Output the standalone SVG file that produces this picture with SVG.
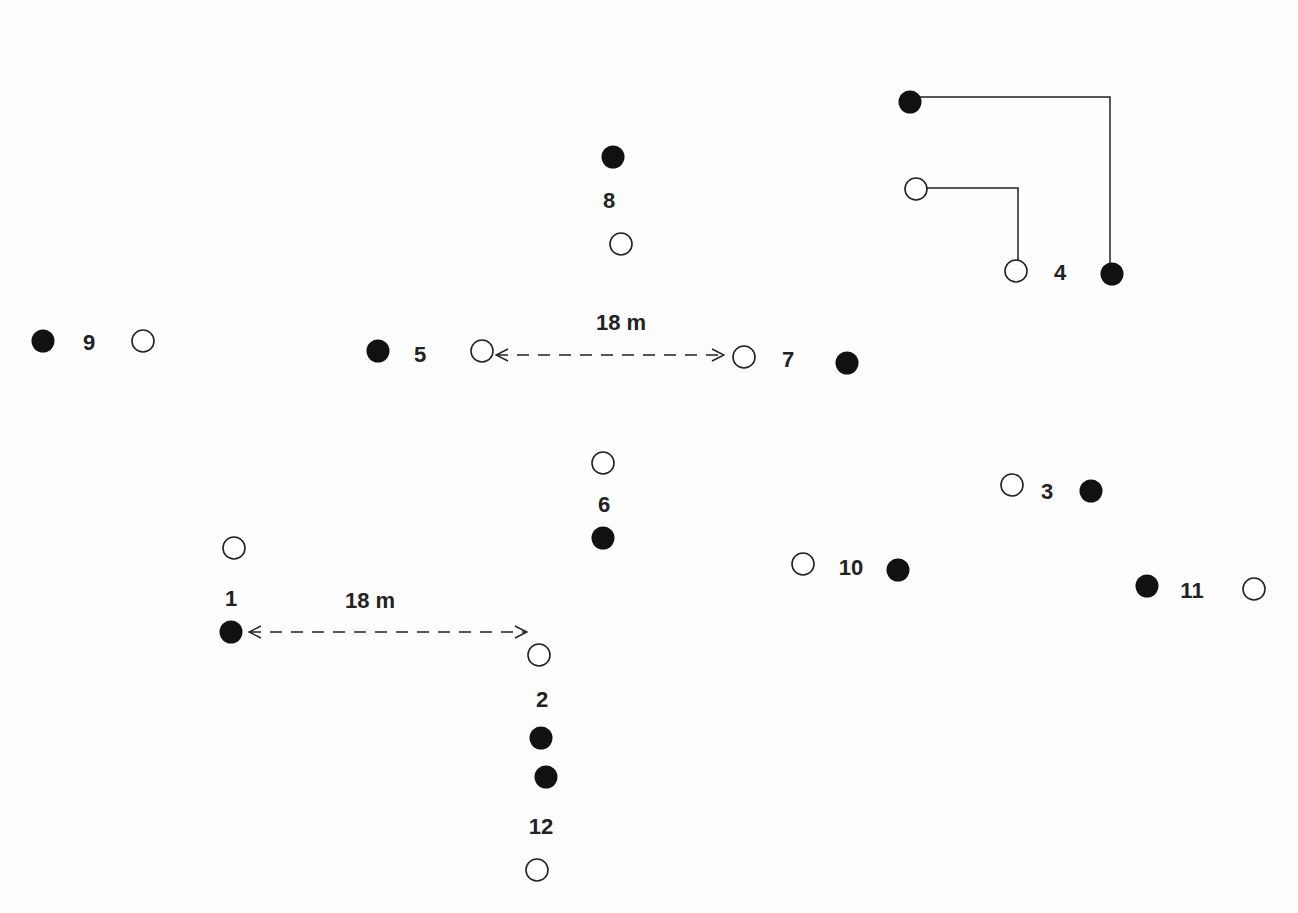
<svg xmlns="http://www.w3.org/2000/svg" width="1298" height="913" viewBox="0 0 1298 913">
<style>
.f{fill:#111;}
.o{fill:#fff;stroke:#222;stroke-width:1.6;}
.t{font-family:"Liberation Sans",Arial,sans-serif;font-weight:bold;font-size:22px;fill:#222;text-anchor:middle;}
.c{fill:none;stroke:#222;stroke-width:1.5;}
.d{fill:none;stroke:#222;stroke-width:1.5;stroke-dasharray:12,9;}
</style>
<defs>
<marker id="ah" viewBox="0 0 14 14" refX="13" refY="7" markerWidth="14" markerHeight="14" markerUnits="userSpaceOnUse" orient="auto-start-reverse">
<path d="M1,1 L13,7 L1,13" fill="none" stroke="#222" stroke-width="1.5"/>
</marker>
</defs>
<rect width="1298" height="913" fill="#fdfdfd"/>
<g id="connectors">
<polyline class="c" points="910,97 1110,97 1110,268"/>
<polyline class="c" points="927,188 1018,188 1018,260"/>
<line class="d" x1="496" y1="355" x2="724" y2="355" marker-start="url(#ah)" marker-end="url(#ah)"/>
<line class="d" x1="249" y1="632" x2="527" y2="632" marker-start="url(#ah)" marker-end="url(#ah)"/>
</g>
<g id="dim1"><text class="t" x="621" y="330">18 m</text></g>
<g id="dim2"><text class="t" x="370" y="608">18 m</text></g>
<g id="node1"><circle class="o" cx="234" cy="548" r="11"/><text class="t" x="231" y="606">1</text><circle class="f" cx="231" cy="632" r="11.5"/></g>
<g id="node2"><circle class="o" cx="539" cy="655" r="11"/><text class="t" x="542" y="707">2</text><circle class="f" cx="541" cy="738" r="11.5"/></g>
<g id="node3"><circle class="o" cx="1012" cy="485" r="11"/><text class="t" x="1047" y="499">3</text><circle class="f" cx="1091" cy="491" r="11.5"/></g>
<g id="node4"><circle class="f" cx="910" cy="102" r="11.5"/><circle class="o" cx="916" cy="189" r="11"/><circle class="o" cx="1016" cy="271" r="11"/><text class="t" x="1060" y="280">4</text><circle class="f" cx="1112" cy="274" r="11.5"/></g>
<g id="node5"><circle class="f" cx="378" cy="351" r="11.5"/><text class="t" x="420" y="362">5</text><circle class="o" cx="482" cy="351" r="11"/></g>
<g id="node6"><circle class="o" cx="603" cy="463" r="11"/><text class="t" x="604" y="512">6</text><circle class="f" cx="603" cy="538" r="11.5"/></g>
<g id="node7"><circle class="o" cx="744" cy="357" r="11"/><text class="t" x="788" y="367">7</text><circle class="f" cx="847" cy="363" r="11.5"/></g>
<g id="node8"><circle class="f" cx="613" cy="157" r="11.5"/><text class="t" x="609" y="208">8</text><circle class="o" cx="621" cy="244" r="11"/></g>
<g id="node9"><circle class="f" cx="43" cy="341" r="11.5"/><text class="t" x="89" y="350">9</text><circle class="o" cx="143" cy="341" r="11"/></g>
<g id="node10"><circle class="o" cx="803" cy="564" r="11"/><text class="t" x="851" y="575">10</text><circle class="f" cx="898" cy="570" r="11.5"/></g>
<g id="node11"><circle class="f" cx="1147" cy="586" r="11.5"/><text class="t" x="1192" y="598">11</text><circle class="o" cx="1254" cy="589" r="11"/></g>
<g id="node12"><circle class="f" cx="546" cy="777" r="11.5"/><text class="t" x="541" y="834">12</text><circle class="o" cx="537" cy="870" r="11"/></g>
</svg>
